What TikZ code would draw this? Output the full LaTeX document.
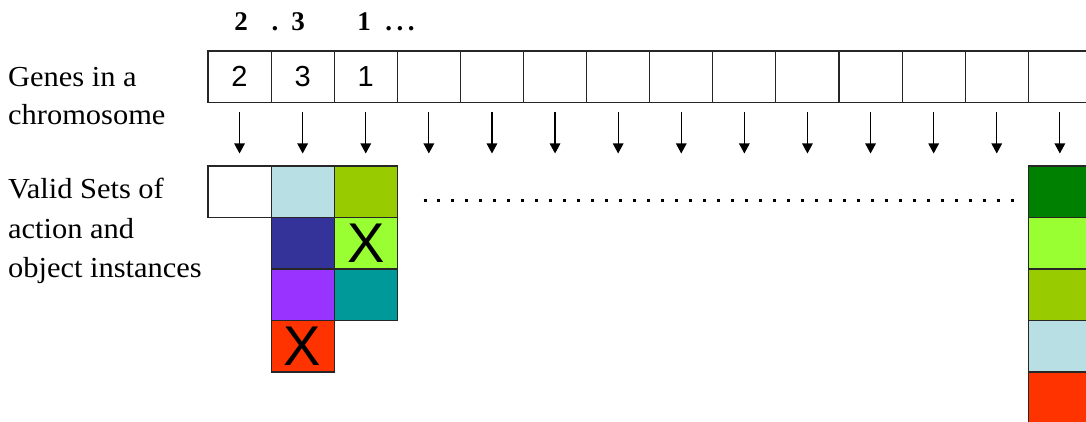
\documentclass[tikz,border=0pt]{standalone}
\usepackage{fontspec}
\setmainfont{Liberation Serif}
\newfontfamily\labelf[FakeStretch=1.05]{Liberation Serif}
\newfontfamily\arialf{Liberation Sans}
\usetikzlibrary{arrows.meta}
\definecolor{lblue}{HTML}{B8DFE3}
\definecolor{olive}{HTML}{99CC00}
\definecolor{dblue}{HTML}{333399}
\definecolor{lgreen}{HTML}{99FF33}
\definecolor{purp}{HTML}{9933FF}
\definecolor{teal}{HTML}{009999}
\definecolor{redx}{HTML}{FF3300}
\definecolor{dgreen}{HTML}{008000}
\begin{document}
\begin{tikzpicture}[x=1pt,y=-1pt,
  cell/.style={draw=black!85,line width=1.1pt,minimum width=63.1pt,minimum height=51.5pt,inner sep=0pt,outer sep=0pt,anchor=north west},
  digit/.style={font=\arialf\fontsize{29}{29}\selectfont},
  xmark/.style={font=\arialf\fontsize{56}{56}\selectfont},
  label/.style={font=\labelf\fontsize{29}{29}\selectfont,anchor=base west,inner sep=0pt},
  hdr/.style={font=\bfseries\fontsize{27}{27}\selectfont,anchor=base,inner sep=0pt},
  garrow/.style={line width=1.2pt,-{Triangle[width=10.5pt,length=10pt]},shorten <=10pt,shorten >=12.5pt},
  dots/.style={line width=3pt,dash pattern=on 3pt off 10.98pt}]
\useasboundingbox (0,0) rectangle (1086,422);
\clip (0,0) rectangle (1086,422);
% header
\node[hdr] (h1) at (241,31) {2};
\node[hdr] (h2) at (275,31) {.};
\node[hdr] (h3) at (298,31) {3};
\node[hdr] (h4) at (364,31) {1};
\node[hdr] (h5) at (400,31) {.\,.\,.};
% left labels
\node[label] (gl1) at (8,87) {Genes in a};
\node[label] (gl2) at (8,125) {chromosome};
\node[label] (vl1) at (8,199) {Valid Sets of};
\node[label] (vl2) at (8,238) {action and};
\node[label] (vl3) at (8,277) {object instances};
% gene cells
\node[cell,digit] (g1) at (208,51) {2};
\node[cell,digit] (g2) at (271.1,51) {3};
\node[cell,digit] (g3) at (334.2,51) {1};
\foreach \i in {4,...,14} \node[cell] (g\i) at ({208+63.1*(\i-1)},51) {};
% arrows
\foreach \i in {1,...,14} {
  \coordinate (t\i) at ({208+63.1*(\i-1)+31.55},166);
  \draw[garrow] (g\i.south) -- (t\i);
}
% valid sets
\node[cell,fill=white] (v1) at (208,166) {};
\node[cell,fill=lblue] (a1) at (271.1,166) {};
\node[cell,fill=dblue] (a2) at (271.1,217.5) {};
\node[cell,fill=purp] (a3) at (271.1,269) {};
\node[cell,fill=redx,xmark] (a4) at (271.1,320.5) {X};
\node[cell,fill=olive] (b1) at (334.2,166) {};
\node[cell,fill=lgreen,xmark] (b2) at (334.2,217.5) {X};
\node[cell,fill=teal] (b3) at (334.2,269) {};
\node[cell,fill=dgreen] (c1) at (1028.3,166) {};
\node[cell,fill=lgreen] (c2) at (1028.3,217.5) {};
\node[cell,fill=olive] (c3) at (1028.3,269) {};
\node[cell,fill=lblue] (c4) at (1028.3,320.5) {};
\node[cell,fill=redx] (c5) at (1028.3,372) {};
% dotted line
\coordinate (dL) at (423.5,200.7);
\coordinate (dR) at (1014,200.7);
\draw[dots] (dL) -- (dR);
\end{tikzpicture}
\end{document}
